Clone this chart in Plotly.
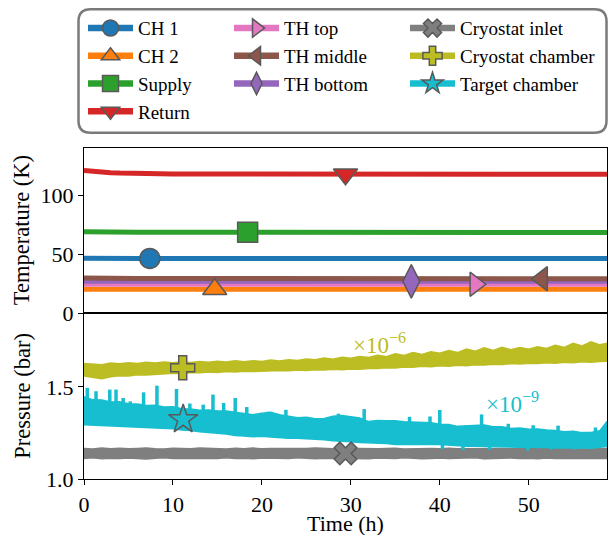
import numpy as np
import plotly.graph_objects as go

FONT = "Liberation Serif"

# ---------------- Temperature data (K) ----------------
temp_hours = [0, 0.5, 1, 2, 3, 4, 5, 6, 8, 10, 15, 20, 25, 30, 35, 40, 45, 50, 55, 58.8]
ch1 = [46.6, 46.5, 46.5, 46.5, 46.5, 46.5, 46.5, 46.5, 46.5, 46.5, 46.5, 46.5, 46.5, 46.5, 46.5, 46.5, 46.5, 46.5, 46.5, 46.5]
ch2 = [20.3, 20.2, 20.2, 20.2, 20.2, 20.2, 20.2, 20.2, 20.2, 20.2, 20.2, 20.2, 20.2, 20.2, 20.2, 20.2, 20.2, 20.2, 20.2, 20.2]
supply = [69.2, 69.1, 69.0, 69.0, 69.0, 69.0, 68.9, 68.9, 68.9, 68.9, 68.8, 68.8, 68.7, 68.7, 68.7, 68.6, 68.6, 68.6, 68.6, 68.6]
ret = [121.5, 121.0, 120.6, 120.0, 119.6, 119.3, 119.0, 118.8, 118.6, 118.5, 118.4, 118.4, 118.3, 118.3, 118.3, 118.2, 118.2, 118.2, 118.2, 118.2]
th_top = [24.6, 24.5, 24.5, 24.5, 24.5, 24.5, 24.5, 24.5, 24.5, 24.5, 24.5, 24.5, 24.5, 24.5, 24.5, 24.5, 24.5, 24.5, 24.5, 24.5]
th_mid = [29.8, 29.7, 29.7, 29.6, 29.6, 29.6, 29.5, 29.5, 29.5, 29.5, 29.4, 29.4, 29.4, 29.3, 29.3, 29.3, 29.2, 29.2, 29.2, 29.2]
th_bot = [27.1, 27.0, 27.0, 27.0, 27.0, 27.0, 27.0, 27.0, 27.0, 27.0, 27.0, 27.0, 27.0, 27.0, 27.0, 27.0, 27.0, 27.0, 27.0, 27.0]
temp_ticks = [0, 50, 100]

# ---------------- Pressure data (bar, scaled) ----------------
p_hours = list(range(0, 59)) + [58.8]
inlet_hi = [1.166, 1.163, 1.168, 1.165, 1.167, 1.164, 1.166, 1.169, 1.165, 1.163,
            1.167, 1.166, 1.164, 1.168, 1.165, 1.166, 1.163, 1.167, 1.165, 1.168,
            1.164, 1.166, 1.165, 1.167, 1.163, 1.166, 1.168, 1.165, 1.164, 1.167,
            1.166, 1.165, 1.168, 1.164, 1.166, 1.167, 1.163, 1.165, 1.168, 1.166,
            1.164, 1.167, 1.165, 1.166, 1.163, 1.168, 1.165, 1.166, 1.164, 1.167,
            1.165, 1.168, 1.164, 1.166, 1.165, 1.167, 1.163, 1.166, 1.165, 1.166]
inlet_lo = [1.112, 1.115, 1.110, 1.113, 1.111, 1.114, 1.112, 1.109, 1.113, 1.115,
            1.111, 1.112, 1.114, 1.110, 1.113, 1.112, 1.115, 1.111, 1.113, 1.110,
            1.114, 1.112, 1.113, 1.111, 1.115, 1.112, 1.110, 1.113, 1.114, 1.111,
            1.112, 1.113, 1.110, 1.114, 1.112, 1.111, 1.115, 1.113, 1.110, 1.112,
            1.114, 1.111, 1.113, 1.112, 1.115, 1.110, 1.113, 1.112, 1.114, 1.111,
            1.113, 1.110, 1.114, 1.112, 1.113, 1.111, 1.115, 1.112, 1.113, 1.112]
chamber_hi = [1.628, 1.624, 1.621, 1.630, 1.626, 1.632, 1.628, 1.634, 1.630, 1.636,
              1.632, 1.637, 1.633, 1.639, 1.635, 1.640, 1.636, 1.642, 1.637, 1.643,
              1.639, 1.646, 1.641, 1.648, 1.644, 1.652, 1.648, 1.657, 1.651, 1.661,
              1.656, 1.666, 1.660, 1.673, 1.665, 1.681, 1.671, 1.687, 1.677, 1.691,
              1.683, 1.698, 1.687, 1.706, 1.694, 1.713, 1.699, 1.716, 1.702, 1.714,
              1.705, 1.719, 1.709, 1.727, 1.715, 1.737, 1.723, 1.745, 1.729, 1.738]
chamber_lo = [1.560, 1.551, 1.545, 1.556, 1.561, 1.560, 1.566, 1.565, 1.570, 1.571,
              1.575, 1.573, 1.578, 1.577, 1.581, 1.579, 1.584, 1.582, 1.586, 1.584,
              1.588, 1.587, 1.590, 1.588, 1.592, 1.590, 1.594, 1.592, 1.596, 1.594,
              1.598, 1.597, 1.601, 1.600, 1.605, 1.603, 1.609, 1.607, 1.612, 1.610,
              1.615, 1.613, 1.618, 1.616, 1.621, 1.619, 1.624, 1.622, 1.627, 1.625,
              1.629, 1.627, 1.631, 1.629, 1.634, 1.632, 1.637, 1.635, 1.639, 1.640]
target_hi = [1.447, 1.430, 1.429, 1.419, 1.420, 1.409, 1.408, 1.400, 1.401, 1.391,
             1.392, 1.382, 1.381, 1.373, 1.375, 1.369, 1.370, 1.363, 1.357, 1.349,
             1.357, 1.362, 1.349, 1.340, 1.333, 1.335, 1.327, 1.329, 1.341, 1.345,
             1.337, 1.332, 1.312, 1.318, 1.316, 1.317, 1.311, 1.310, 1.305, 1.306,
             1.298, 1.296, 1.286, 1.289, 1.289, 1.293, 1.284, 1.284, 1.275, 1.277,
             1.270, 1.272, 1.266, 1.264, 1.257, 1.259, 1.252, 1.253, 1.262, 1.313]
target_lo = [1.295, 1.292, 1.292, 1.288, 1.289, 1.285, 1.285, 1.280, 1.280, 1.275,
             1.273, 1.266, 1.264, 1.257, 1.254, 1.248, 1.245, 1.237, 1.234, 1.230,
             1.232, 1.228, 1.227, 1.222, 1.222, 1.218, 1.217, 1.213, 1.208, 1.203,
             1.202, 1.198, 1.197, 1.194, 1.193, 1.188, 1.187, 1.185, 1.187, 1.187,
             1.187, 1.183, 1.182, 1.178, 1.178, 1.176, 1.177, 1.174, 1.174, 1.172,
             1.174, 1.171, 1.173, 1.169, 1.169, 1.167, 1.169, 1.167, 1.171, 1.177]
# short upward / downward excursions of the target-chamber signal
target_spike_hours = [0.37, 1.35, 2.9, 3.6, 4.4, 5.2, 6.7, 8.2, 10.4, 11.9, 13.4, 14.5, 15.7,
                      17.0, 18.3, 20.7, 22.7, 28.6, 31.5, 36.6, 38.9, 40.0, 44.7, 47.7, 50.5,
                      53.3, 57.5]
target_spike_tops = [1.495, 1.477, 1.486, 1.486, 1.440, 1.422, 1.471, 1.507, 1.489, 1.410,
                     1.404, 1.459, 1.413, 1.440, 1.391, 1.365, 1.376, 1.355, 1.380, 1.338,
                     1.340, 1.375, 1.351, 1.300, 1.292, 1.290, 1.280]
target_dip_hours = [40.3, 42.6, 45.6, 49.9, 52.5, 55.2]
target_dip_bottoms = [1.163, 1.158, 1.160, 1.155, 1.160, 1.160]
press_ticks = [1.0, 1.5]
press_tick_labels = ["1.0", "1.5"]
time_ticks = [0, 10, 20, 30, 40, 50]

# marker positions (h)
marker_hours = {
    "CH 1": 7.4, "CH 2": 14.7, "Supply": 18.4, "Return": 29.4,
    "TH top": 44.0, "TH middle": 51.5, "TH bottom": 36.8,
    "Cryostat inlet": 29.4, "Cryostat chamber": 11.1, "Target chamber": 11.15,
}

temp_series = [
    ("CH 1", ch1, "#1f77b4", "circle", 20),
    ("CH 2", ch2, "#ff7f0e", "triangle-up", 21),
    ("Supply", supply, "#2ca02c", "square", 20),
    ("Return", ret, "#d62728", "triangle-down", 21),
    ("TH top", th_top, "#e377c2", "triangle-right", 21),
    ("TH bottom", th_bot, "#9467bd", "diamond-tall", 24),
    ("TH middle", th_mid, "#8c564b", "triangle-left", 21),
]
press_series = [
    ("Cryostat inlet", inlet_lo, inlet_hi, "#7f7f7f", "x", 20),
    ("Cryostat chamber", chamber_lo, chamber_hi, "#bcbd22", "cross", 20),
    ("Target chamber", target_lo, target_hi, "#17becf", "star", 22),
]

EDGE = "#595959"
fig = go.Figure()

# temperature panel
for name, vals, col, sym, ms in temp_series:
    fig.add_trace(go.Scatter(x=temp_hours, y=vals, mode="lines",
                             line=dict(color=col, width=5), showlegend=False,
                             xaxis="x2", yaxis="y2", hoverinfo="skip"))
for name, vals, col, sym, ms in temp_series:
    h = marker_hours[name]
    fig.add_trace(go.Scatter(x=[h], y=[float(np.interp(h, temp_hours, vals))], mode="markers",
                             marker=dict(symbol=sym, size=ms, color=col,
                                         line=dict(color=EDGE, width=1.5)),
                             showlegend=False, xaxis="x2", yaxis="y2"))

# pressure panel
for name, lo, hi, col, sym, ms in press_series:
    xs = list(p_hours) + list(p_hours[::-1])
    ys = list(hi) + list(lo[::-1])
    fig.add_trace(go.Scatter(x=xs, y=ys, mode="lines", fill="toself", fillcolor=col,
                             line=dict(color=col, width=1.5), showlegend=False,
                             xaxis="x", yaxis="y", hoverinfo="skip"))
    if name == "Target chamber":
        sx, sy = [], []
        for h, t in zip(target_spike_hours, target_spike_tops):
            sx += [h, h, None]
            sy += [float(np.interp(h, p_hours, hi)) - 0.01, t, None]
        for h, b in zip(target_dip_hours, target_dip_bottoms):
            sx += [h, h, None]
            sy += [float(np.interp(h, p_hours, lo)) + 0.01, b, None]
        fig.add_trace(go.Scatter(x=sx, y=sy, mode="lines", line=dict(color=col, width=3.5),
                                 showlegend=False, xaxis="x", yaxis="y", hoverinfo="skip"))
for name, lo, hi, col, sym, ms in press_series:
    h = marker_hours[name]
    mid = (np.array(lo) + np.array(hi)) / 2
    fig.add_trace(go.Scatter(x=[h], y=[float(np.interp(h, p_hours, mid))], mode="markers",
                             marker=dict(symbol=sym, size=ms, color=col,
                                         line=dict(color=EDGE, width=1.5)),
                             showlegend=False, xaxis="x", yaxis="y"))

# legend entries (three columns)
legend_cols = {
    "legend": ["CH 1", "CH 2", "Supply", "Return"],
    "legend2": ["TH top", "TH middle", "TH bottom"],
    "legend3": ["Cryostat inlet", "Cryostat chamber", "Target chamber"],
}
style = {s[0]: (s[2], s[3]) for s in temp_series}
style.update({s[0]: (s[3], s[4]) for s in press_series})
for lg, names in legend_cols.items():
    for i, name in enumerate(names):
        col, sym = style[name]
        fig.add_trace(go.Scatter(x=[None], y=[None], mode="lines+markers", name=name,
                                 line=dict(color=col, width=6.5),
                                 marker=dict(symbol=sym, size=16, color=col,
                                             line=dict(color=EDGE, width=1.5)),
                                 legend=lg, legendrank=i + 1, xaxis="x", yaxis="y"))

axis_common = dict(showline=True, linecolor="black", linewidth=1.2, mirror=True,
                   showgrid=False, zeroline=False, ticks="outside", ticklen=5,
                   tickwidth=1.2, tickcolor="black",
                   tickfont=dict(family=FONT, size=22, color="black"))
split = 0.5015
fig.update_layout(
    width=608, height=535,
    margin=dict(l=84, r=1, t=148, b=56, autoexpand=False),
    paper_bgcolor="white", plot_bgcolor="white",
    font=dict(family=FONT, size=20, color="black"),
    xaxis=dict(domain=[0, 1], anchor="y", range=[0, 58.8], tickvals=time_ticks, **axis_common),
    yaxis=dict(domain=[0, split], anchor="x", range=[1.0, 1.902], tickvals=press_ticks,
               ticktext=press_tick_labels, **axis_common),
    xaxis2=dict(domain=[0, 1], anchor="y2", matches="x", showticklabels=False,
                **{**axis_common, "ticks": ""}),
    yaxis2=dict(domain=[split, 1], anchor="x2", range=[0, 140.6], tickvals=temp_ticks,
                **axis_common),
    showlegend=True,
)
PW, PH, L0, B0 = 523, 331, 84, 479.3
# axis titles
fig.add_annotation(x=(21.7 - L0) / PW, y=(split + 1) / 2, xref="paper", yref="paper",
                   text="Temperature (K)", textangle=-90, showarrow=False,
                   xanchor="center", yanchor="middle",
                   font=dict(family=FONT, size=22.5, color="black"))
fig.add_annotation(x=(21.7 - L0) / PW, y=split / 2, xref="paper", yref="paper",
                   text="Pressure (bar)", textangle=-90, showarrow=False,
                   xanchor="center", yanchor="middle",
                   font=dict(family=FONT, size=22.5, color="black"))
fig.add_annotation(x=0.5, y=(B0 - 523.5) / PH, xref="paper", yref="paper",
                   text="Time (h)", showarrow=False, xanchor="center", yanchor="middle",
                   borderpad=0, font=dict(family=FONT, size=22, color="black"))

leg_common = dict(xref="paper", yref="paper", yanchor="top", xanchor="left",
                  bgcolor="rgba(0,0,0,0)", borderwidth=0, itemwidth=45,
                  font=dict(family=FONT, size=19, color="black"), tracegroupgap=0)
fig.update_layout(
    legend=dict(x=(83 - L0) / PW, y=(B0 - 9.5) / PH, **leg_common),
    legend2=dict(x=(229 - L0) / PW, y=(B0 - 9.5) / PH, **leg_common),
    legend3=dict(x=(405 - L0) / PW, y=(B0 - 9.5) / PH, **leg_common),
)

# rounded legend frame
x0, x1 = (78.5 - L0) / PW, (606.5 - L0) / PW
yt, yb = (B0 - 9.5) / PH, (B0 - 133) / PH
rx, ry = 12 / PW, 12 / PH
path = (f"M {x0 + rx},{yt} L {x1 - rx},{yt} Q {x1},{yt} {x1},{yt - ry} "
        f"L {x1},{yb + ry} Q {x1},{yb} {x1 - rx},{yb} L {x0 + rx},{yb} "
        f"Q {x0},{yb} {x0},{yb + ry} L {x0},{yt - ry} Q {x0},{yt} {x0 + rx},{yt} Z")
fig.add_shape(type="path", path=path, xref="paper", yref="paper",
              line=dict(color="#7a7a7a", width=2.5), fillcolor="rgba(0,0,0,0)", layer="above")

# scale factor labels
fig.add_annotation(x=33.25, y=1.735, xref="x", yref="y", text="×10<sup>−6</sup>",
                   showarrow=False, font=dict(family=FONT, size=23, color="#bcbd22"))
fig.add_annotation(x=48.15, y=1.415, xref="x", yref="y", text="×10<sup>−9</sup>",
                   showarrow=False, font=dict(family=FONT, size=23, color="#17becf"))

fig.write_html("out.html", post_script="document.body.style.margin='0';",
               config={"displayModeBar": False})
